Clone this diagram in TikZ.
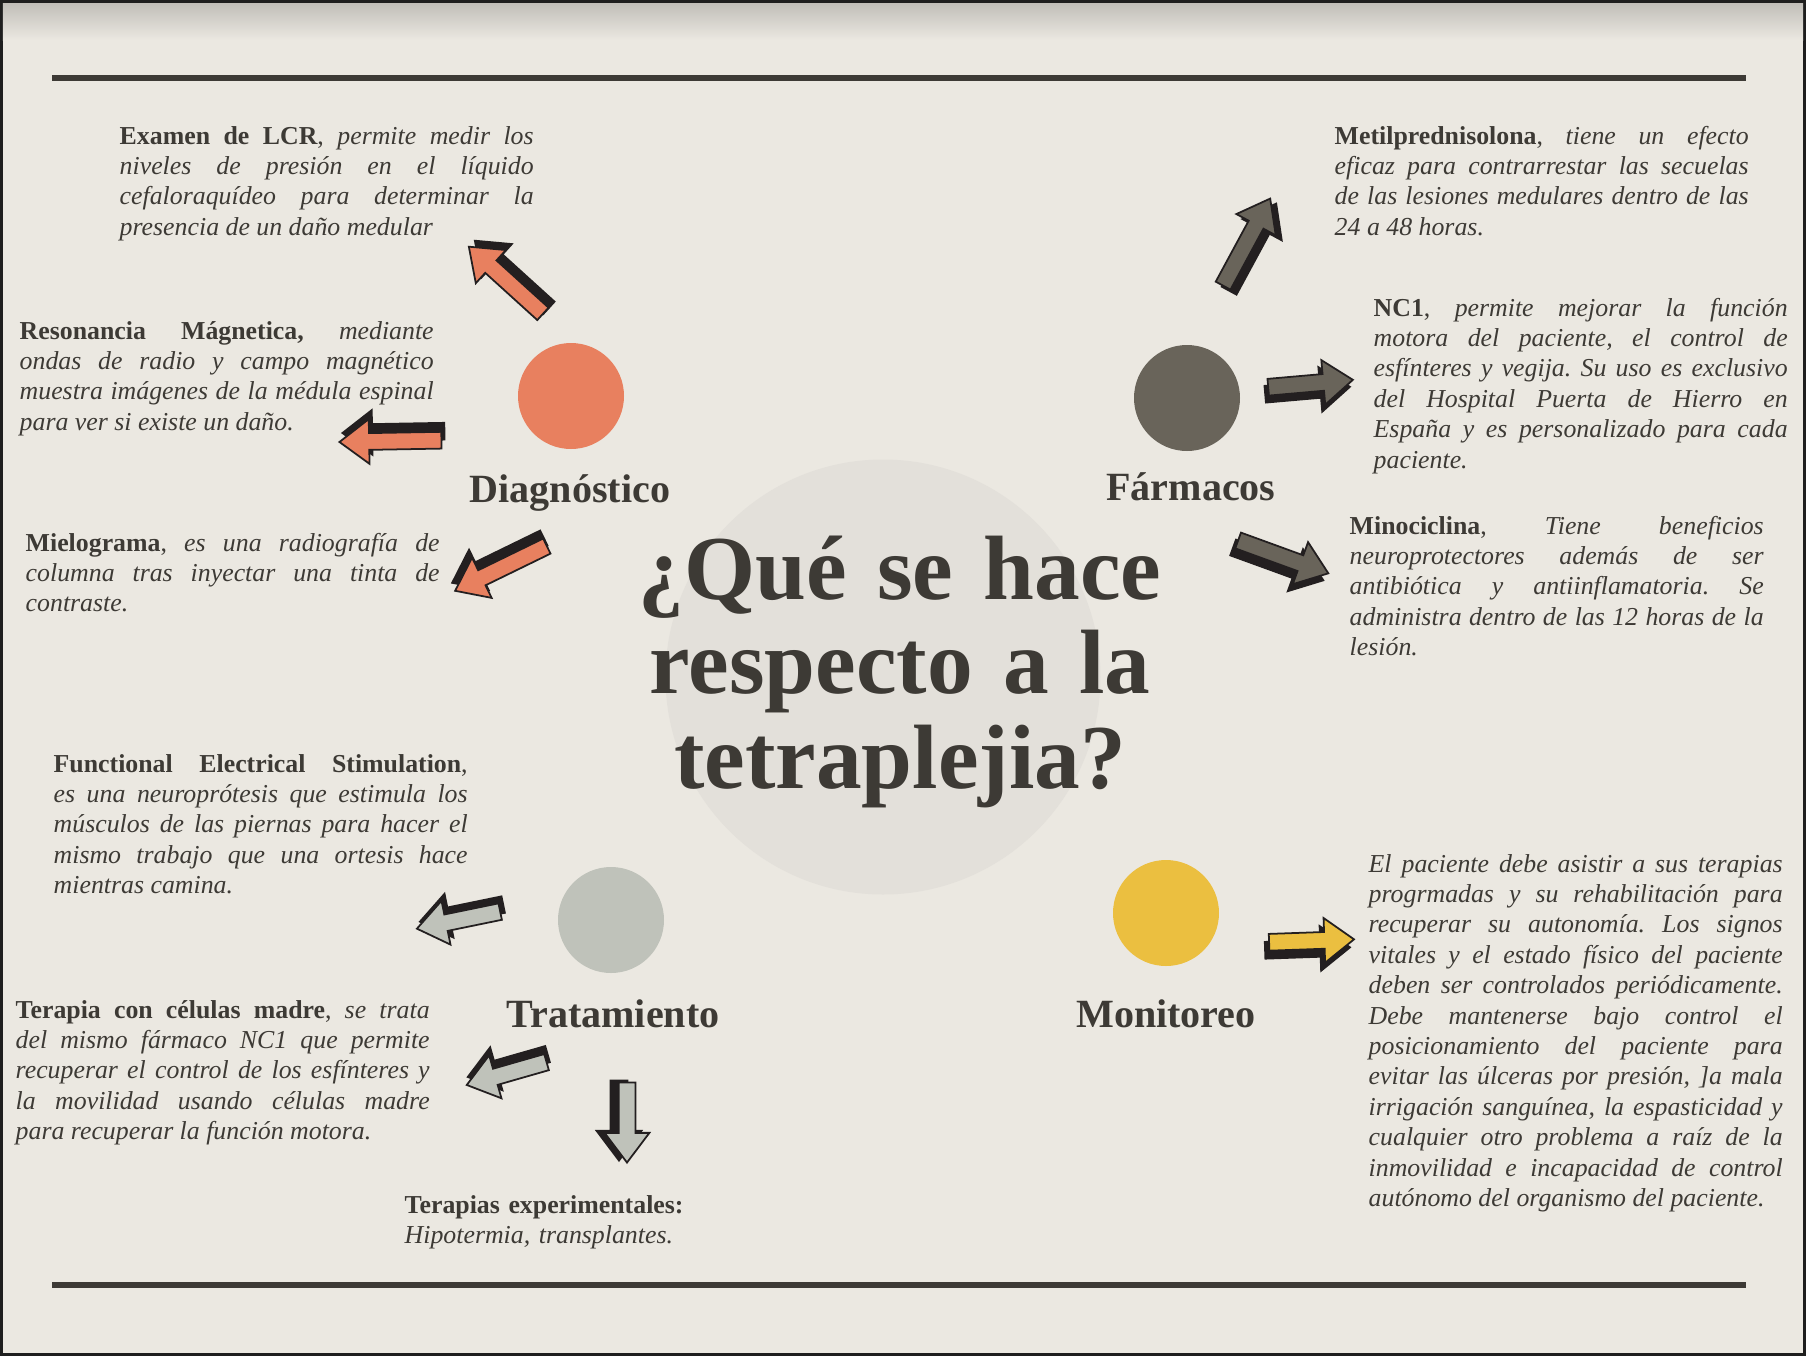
\documentclass[tikz,border=0pt]{standalone}
\usepackage{fontspec}
\setmainfont{Liberation Serif}
\frenchspacing
\usetikzlibrary{positioning, shapes.arrows, shapes.geometric}

\definecolor{fondo}{HTML}{EBE8E1}
\definecolor{marco}{HTML}{1E1E1E}
\definecolor{circulo}{HTML}{E3E0DA}
\definecolor{naranja}{HTML}{E8805F}
\definecolor{pardo}{HTML}{69645A}
\definecolor{gris}{HTML}{BFC2BA}
\definecolor{amarillo}{HTML}{EBBF40}
\definecolor{tinta}{HTML}{3D3A35}
\definecolor{sombra}{HTML}{231F20}

\begin{document}
\begin{tikzpicture}[
      texto/.style={anchor=base west, inner sep=0pt, text width=4.14cm, align=justify, text=tinta, font=\fontsize{7.35pt}{8.65pt}\selectfont},
      titulo/.style={anchor=base, inner sep=0pt, text width=8cm, align=center, text=tinta, font=\fontsize{26pt}{27pt}\selectfont\bfseries},
      etiqueta/.style={anchor=base, inner sep=0pt, text=tinta, font=\fontsize{11.4pt}{13pt}\selectfont\bfseries},
      nudo/.style={circle, minimum size=1.06cm, inner sep=0pt},
      flecha/.style={single arrow, draw=sombra, line width=0.5pt, inner sep=0pt, inner ysep=0.075cm, single arrow head extend=0.14cm, single arrow tip angle=74}]
      \useasboundingbox (0,0) rectangle (18.06,-13.56);

      % fondo y marco
      \fill[marco] (0,0) rectangle (18.06,-13.56);
      \fill[fondo] (0.03,-0.03) rectangle (18.03,-13.53);
      \shade[top color=fondo!82!black, bottom color=fondo] (0.03,-0.03) rectangle (18.03,-0.40);
      \draw[line width=0.06cm, tinta] (0.52,-0.78) -- (17.46,-0.78);
      \draw[line width=0.06cm, tinta] (0.52,-12.85) -- (17.46,-12.85);

      % centro
      \node[circle, fill=circulo, minimum size=4.35cm] (fondocentro) at (8.83,-6.77) {};
      \node[titulo] (pregunta) at (9.00,-5.99) {¿Qué se hace\\ respecto a la\\ tetraplejia?};

      % cuatro nudos
      \node[nudo, fill=naranja] (diag) at (5.71,-3.96) {};
      \node[nudo, fill=pardo] (farm) at (11.87,-3.98) {};
      \node[nudo, fill=gris] (trat) at (6.11,-9.20) {};
      \node[nudo, fill=amarillo] (moni) at (11.66,-9.13) {};
      \node[etiqueta] (tdiag) at (5.70,-5.02) {Diagnóstico};
      \node[etiqueta] (tfarm) at (11.91,-5.00) {Fármacos};
      \node[etiqueta] (ttrat) at (6.13,-10.27) {Tratamiento};
      \node[etiqueta] (tmoni) at (11.66,-10.27) {Monitoreo};

      % flechas: x/y/angulo/largo/color/sombra
      \foreach \x/\y/\ang/\len/\col/\dx/\dy [count=\i] in {
          5.10/-2.84/137.8/1.00/naranja/0.06/0.06,
          3.96/-4.41/181/1.02/naranja/0.03/0.09,
          5.06/-5.66/206/1.02/naranja/-0.03/0.08,
          12.44/-2.47/61.6/0.99/pardo/0.06/-0.05,
          13.05/-3.84/5/0.85/pardo/-0.03/-0.07,
          12.78/-5.55/-20/0.96/pardo/-0.05/-0.07,
          4.64/-9.19/191.6/0.85/gris/0.03/0.07,
          5.12/-10.72/196/0.83/gris/0.01/0.08,
          6.27/-11.17/270/0.80/gris/-0.08/0.02,
          13.06/-9.41/2/0.85/amarillo/-0.04/-0.08} {
        \node[flecha, fill=sombra, minimum height=\len cm, rotate=\ang] (s\i) at (\x+\dx,\y+\dy) {};
        \node[flecha, fill=\col, minimum height=\len cm, rotate=\ang] (f\i) at (\x,\y) {};
      }

      % diagnostico
      \node[texto] (lcr) at (1.19,-1.44) {\textbf{Examen de LCR}, \itshape permite medir los\linebreak niveles de presión en el líquido\linebreak cefaloraquídeo para determinar la\linebreak presencia de un daño medular};
      \node[texto] (reso) at (0.19,-3.39) {\textbf{Resonancia Mágnetica,} \itshape mediante\linebreak ondas de radio y campo magnético\linebreak muestra imágenes de la médula espinal\linebreak para ver si existe un daño.};
      \node[texto] (miel) at (0.25,-5.51) {\textbf{Mielograma}, \itshape es una radiografía de\linebreak columna tras inyectar una tinta de\linebreak contraste.};

      % farmacos
      \node[texto] (metil) at (13.34,-1.44) {\textbf{Metilprednisolona}, \itshape tiene un efecto\linebreak eficaz para contrarrestar las secuelas\linebreak de las lesiones medulares dentro de las\linebreak 24 a 48 horas.};
      \node[texto] (nc1) at (13.73,-3.16) {\textbf{NC1}, \itshape permite mejorar la función\linebreak motora del paciente, el control de\linebreak esfínteres y vegija. Su uso es exclusivo\linebreak del Hospital Puerta de Hierro en\linebreak España y es personalizado para cada\linebreak paciente.};
      \node[texto] (mino) at (13.49,-5.34) {\textbf{Minociclina}, \itshape Tiene beneficios\linebreak neuroprotectores además de ser\linebreak antibiótica y antiinflamatoria. Se\linebreak administra dentro de las 12 horas de la\linebreak lesión.};

      % tratamiento
      \node[texto] (fes) at (0.53,-7.72) {\textbf{Functional Electrical Stimulation},\linebreak \itshape es una neuroprótesis que estimula los\linebreak músculos de las piernas para hacer el\linebreak mismo trabajo que una ortesis hace\linebreak mientras camina.};
      \node[texto] (madre) at (0.15,-10.18) {\textbf{Terapia con células madre}, \itshape se trata\linebreak del mismo fármaco NC1 que permite\linebreak recuperar el control de los esfínteres y\linebreak la movilidad usando células madre\linebreak para recuperar la función motora.};
      \node[texto, align=left] (exper) at (4.04,-12.13) {\textbf{Terapias experimentales:}\\ \itshape Hipotermia, transplantes.};

      % monitoreo
      \node[texto] (cuidado) at (13.68,-8.72) {\itshape El paciente debe asistir a sus terapias\linebreak progrmadas y su rehabilitación para\linebreak recuperar su autonomía. Los signos\linebreak vitales y el estado físico del paciente\linebreak deben ser controlados periódicamente.\linebreak Debe mantenerse bajo control el\linebreak posicionamiento del paciente para\linebreak evitar las úlceras por presión, ]a mala\linebreak irrigación sanguínea, la espasticidad y\linebreak cualquier otro problema a raíz de la\linebreak inmovilidad e incapacidad de control\linebreak autónomo del organismo del paciente.};
    \end{tikzpicture}
\end{document}
